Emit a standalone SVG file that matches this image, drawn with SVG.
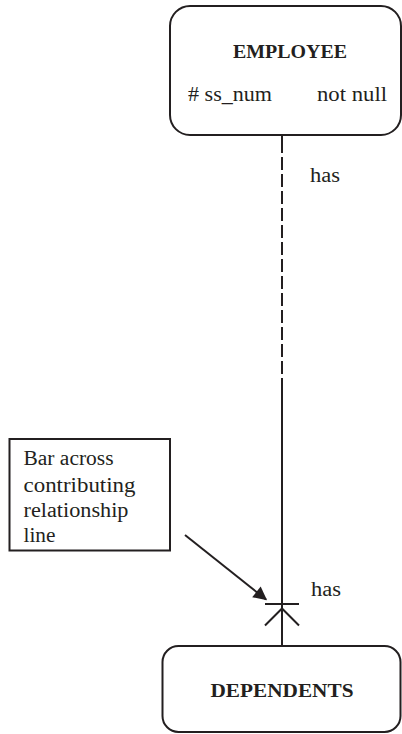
<svg xmlns="http://www.w3.org/2000/svg" width="402" height="734" viewBox="0 0 402 734">
  <style>
    .box { fill: #ffffff; stroke: #231f20; stroke-width: 2; }
    .line { fill: none; stroke: #231f20; stroke-width: 2; }
    .txt { font-family: "Liberation Serif", "Times New Roman", serif; font-size: 20px; fill: #231f20; }
    .title { font-weight: bold; font-size: 18px; }
  </style>
  <defs>
    <marker id="arrow" viewBox="0 0 10 10" refX="9" refY="5" markerWidth="8" markerHeight="8" markerUnits="userSpaceOnUse" orient="auto" overflow="visible">
      <path d="M0,0 L10,5 L0,10 Z" fill="#231f20" transform="scale(1.7)" transform-origin="9 5"/>
    </marker>
  </defs>
  <rect width="402" height="734" fill="#ffffff"/>

  <!-- connectors -->
  <g id="connectors">
    <!-- optional half of the relationship (dashed) -->
    <line class="line" x1="282" y1="135" x2="282" y2="140" />
    <line class="line" x1="282" y1="140" x2="282" y2="388" stroke-dasharray="13 4" stroke-width="2.2"/>
    <!-- mandatory half (solid) -->
    <line class="line" x1="282" y1="388" x2="282" y2="646" />
    <!-- bar across the line -->
    <line class="line" x1="265" y1="604" x2="299" y2="604" />
    <!-- crow's foot -->
    <polyline class="line" points="265,625.5 282,608.5 299,625.5" />
    <text class="txt" x="310" y="182" textLength="30" lengthAdjust="spacingAndGlyphs">has</text>
    <text class="txt" x="311" y="596" textLength="30" lengthAdjust="spacingAndGlyphs">has</text>
  </g>

  <g id="employee">
    <rect class="box" x="170" y="6" width="231" height="129" rx="20" ry="20"/>
    <text class="txt title" x="290" y="58" text-anchor="middle" textLength="114" lengthAdjust="spacingAndGlyphs">EMPLOYEE</text>
    <text class="txt" x="188" y="101" textLength="84" lengthAdjust="spacingAndGlyphs"># ss_num</text>
    <text class="txt" x="317" y="101" textLength="70" lengthAdjust="spacingAndGlyphs">not null</text>
  </g>

  <g id="dependents">
    <rect class="box" x="162.5" y="646" width="238" height="86" rx="16" ry="16"/>
    <text class="txt title" x="282" y="697" text-anchor="middle" textLength="143" lengthAdjust="spacingAndGlyphs">DEPENDENTS</text>
  </g>

  <g id="note">
    <rect class="box" x="9.5" y="439" width="160.5" height="111.5"/>
    <text class="txt" x="23.5" y="465" textLength="90" lengthAdjust="spacingAndGlyphs">Bar across</text>
    <text class="txt" x="23.5" y="491.5" textLength="112" lengthAdjust="spacingAndGlyphs">contributing</text>
    <text class="txt" x="23.5" y="517" textLength="105" lengthAdjust="spacingAndGlyphs">relationship</text>
    <text class="txt" x="23.5" y="541.5" textLength="32" lengthAdjust="spacingAndGlyphs">line</text>
  </g>

  <g id="note-pointer">
    <line class="line" x1="185" y1="535" x2="266" y2="599.5" marker-end="url(#arrow)"/>
  </g>
</svg>
